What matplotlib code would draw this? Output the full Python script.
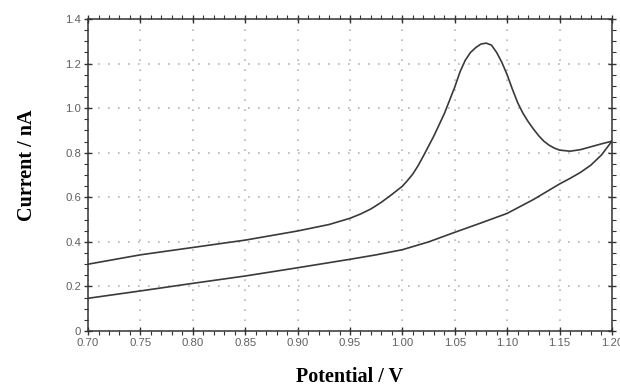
import matplotlib
matplotlib.use("Agg")
from matplotlib import pyplot as plt
from matplotlib import ticker

# Forward sweep (upper branch, with oxidation peak)
fwd_v = [0.70, 0.75, 0.80, 0.85, 0.90, 0.93, 0.95, 0.96, 0.97, 0.98, 0.99, 1.00, 1.005, 1.01,
         1.015, 1.02, 1.03, 1.04, 1.05, 1.055, 1.06, 1.065, 1.07, 1.075, 1.08, 1.085, 1.09,
         1.095, 1.10, 1.105, 1.11, 1.115, 1.12, 1.125, 1.13, 1.135, 1.14, 1.145, 1.15, 1.16,
         1.17, 1.18, 1.19, 1.20]
fwd_i = [0.300, 0.342, 0.375, 0.408, 0.449, 0.478, 0.506, 0.525, 0.548, 0.578, 0.613, 0.650,
         0.676, 0.705, 0.742, 0.785, 0.875, 0.975, 1.095, 1.163, 1.215, 1.25, 1.272, 1.288,
         1.292, 1.283, 1.25, 1.205, 1.15, 1.085, 1.025, 0.978, 0.94, 0.907, 0.877, 0.852,
         0.834, 0.821, 0.812, 0.807, 0.814, 0.827, 0.84, 0.852]

# Reverse sweep (lower branch)
rev_v = [0.70, 0.75, 0.80, 0.85, 0.90, 0.95, 0.975, 1.00, 1.025, 1.05, 1.075, 1.10, 1.125,
         1.15, 1.16, 1.17, 1.18, 1.19, 1.20]
rev_i = [0.147, 0.180, 0.214, 0.247, 0.284, 0.322, 0.342, 0.365, 0.400, 0.443, 0.485, 0.528,
         0.590, 0.660, 0.685, 0.712, 0.745, 0.790, 0.852]

x_ticks = [0.70, 0.75, 0.80, 0.85, 0.90, 0.95, 1.00, 1.05, 1.10, 1.15, 1.20]
y_ticks = [0, 0.2, 0.4, 0.6, 0.8, 1.0, 1.2, 1.4]

fig, axis = plt.subplots(figsize=(6.2, 3.89), dpi=100)
fig.subplots_adjust(left=0.142, right=0.987, bottom=0.149, top=0.951)

axis.plot(fwd_v, fwd_i, color="#3a3a3a", linewidth=1.2)
axis.plot(rev_v, rev_i, color="#3a3a3a", linewidth=1.2)

axis.set_xlim(0.70, 1.20)
axis.set_ylim(0, 1.4)

# Major / minor ticks on all four sides
axis.xaxis.set_major_locator(ticker.FixedLocator(x_ticks))
axis.xaxis.set_minor_locator(ticker.MultipleLocator(0.01))
axis.yaxis.set_major_locator(ticker.FixedLocator(y_ticks))
axis.yaxis.set_minor_locator(ticker.MultipleLocator(0.05))
axis.xaxis.set_major_formatter(ticker.FuncFormatter(lambda v, p: "%.2f" % v))
axis.yaxis.set_major_formatter(ticker.FuncFormatter(lambda v, p: "0" if v == 0 else "%.1f" % v))
axis.tick_params(which="major", direction="inout", length=6, width=1, color="#333333",
                 top=True, right=True, labelsize=8.2, labelcolor="#606060", pad=2)
axis.tick_params(which="minor", direction="out", length=3, width=0.8, color="#333333",
                 top=True, right=True)
for lbl in axis.get_xticklabels() + axis.get_yticklabels():
    lbl.set_family("Liberation Sans")

for spine in axis.spines.values():
    spine.set_color("#333333")
    spine.set_linewidth(1.1)

# Dotted grid at major ticks
axis.grid(True, which="major", color="#b5b5b5", linewidth=1.2, linestyle=(0, (1, 5)))
axis.set_axisbelow(True)

axis.set_xlabel("Potential / V", family="Liberation Serif", fontweight="bold", fontsize=14.5)
axis.set_ylabel("Current / nA", family="Liberation Serif", fontweight="bold", fontsize=14.5)
axis.xaxis.set_label_coords(0.5, -0.115)
axis.yaxis.set_label_coords(-0.097, 0.53)

fig.savefig("out.png", dpi=100)
